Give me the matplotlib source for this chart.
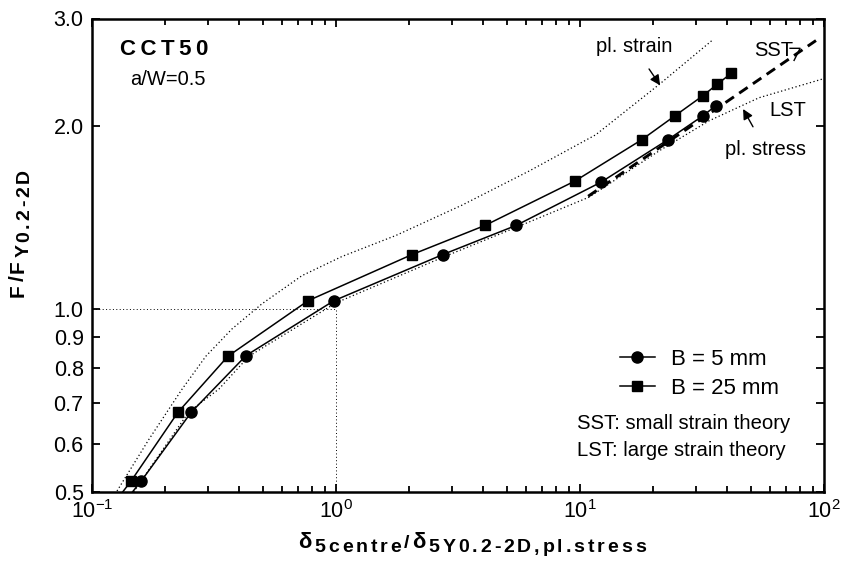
import numpy as np
import matplotlib
matplotlib.use('Agg')
from matplotlib import pyplot as plt
from matplotlib import ticker

# data (log-log)
b5_x = [0.139, 0.159, 0.255, 0.428, 0.98, 2.74, 5.47, 12.2, 22.9, 31.9, 36.1]
b5_y = [0.487, 0.521, 0.676, 0.838, 1.031, 1.228, 1.371, 1.615, 1.896, 2.076, 2.158]

b25_x = [0.127, 0.1445, 0.225, 0.361, 0.768, 2.05, 4.08, 9.54, 17.9, 24.5, 31.9, 36.4, 41.6]
b25_y = [0.487, 0.521, 0.676, 0.836, 1.031, 1.228, 1.371, 1.622, 1.896, 2.076, 2.240, 2.337, 2.437]

# plane strain / plane stress reference curves
strain_x = [0.122, 0.171, 0.234, 0.293, 0.375, 0.497, 0.726, 1.058, 1.76, 3.28, 6.18, 11.6, 21.1, 34.8]
strain_y = [0.49, 0.610, 0.738, 0.836, 0.927, 1.019, 1.134, 1.219, 1.320, 1.480, 1.684, 1.932, 2.337, 2.762]

stress_x = [0.148, 0.25, 0.331, 0.44, 1.0, 2.72, 5.47, 10.9, 21.1, 33.8, 54.2, 100.0]
stress_y = [0.5, 0.678, 0.738, 0.836, 1.023, 1.214, 1.361, 1.526, 1.818, 2.037, 2.223, 2.39]

# small strain theory
sst_x = [10.8, 31.6, 92.7]
sst_y = [1.531, 2.053, 2.76]

y_ticks = [0.5, 0.6, 0.7, 0.8, 0.9, 1.0, 2.0, 3.0]
y_labels = ['0.5', '0.6', '0.7', '0.8', '0.9', '1.0', '2.0', '3.0']

FONTS = ['Liberation Sans', 'DejaVu Sans']


def spaced(fig, x, y, pieces, track, vertical=False):
    # letter-spaced bold text, placed in pixels; pieces = (text, size, drop)
    r = fig.canvas.get_renderer()
    pos = 0.0
    for s, size, drop in pieces:
        for ch in s:
            if vertical:
                t = fig.text(x + drop, y + pos, ch, transform=None, fontsize=size, fontweight='bold',
                             rotation=90, rotation_mode='anchor', ha='left', va='baseline', family=FONTS)
                pos += t.get_window_extent(r).height + track
            else:
                t = fig.text(x + pos, y - drop, ch, transform=None, fontsize=size, fontweight='bold',
                             ha='left', va='baseline', family=FONTS)
                pos += t.get_window_extent(r).width + track


def plotter():
    plt.rcParams.update({'font.family': FONTS,
                         'mathtext.fontset': 'custom',
                         'mathtext.rm': 'Liberation Sans',
                         'mathtext.it': 'Liberation Sans:italic',
                         'mathtext.bf': 'Liberation Sans:bold',
                         'font.size': 14})

    fig = plt.figure(figsize=(8.48, 5.61), dpi=100)
    ax = fig.add_axes([92 / 848, 1 - 492 / 561, 732 / 848, 473.5 / 561])

    # dotted guide at (1,1)
    ax.plot([0.1, 1.0, 1.0], [1.0, 1.0, 0.5], c='k', lw=0.7, ls=(0, (1, 2.5)))

    ax.plot(strain_x, strain_y, c='k', lw=0.9, ls=(0, (1, 2)))
    ax.plot(stress_x, stress_y, c='k', lw=0.9, ls=(0, (1, 2)))
    ax.plot(sst_x, sst_y, c='k', lw=2.1, ls=(0, (3.5, 2.2)))

    ax.plot(b5_x, b5_y, c='k', lw=1.1, marker='o', ms=8, markevery=slice(1, None), label='B = 5 mm')
    ax.plot(b25_x, b25_y, c='k', lw=1.1, marker='s', ms=7, markevery=slice(1, None), label='B = 25 mm')

    ax.set_xscale('log')
    ax.set_yscale('log')
    ax.set_xlim(0.1, 100)
    ax.set_ylim(0.5, 3.0)

    ax.yaxis.set_major_locator(ticker.FixedLocator(y_ticks))
    ax.yaxis.set_major_formatter(ticker.FixedFormatter(y_labels))
    ax.yaxis.set_minor_locator(ticker.NullLocator())
    ax.xaxis.set_major_locator(ticker.LogLocator(base=10))
    ax.xaxis.set_minor_locator(ticker.LogLocator(base=10, subs=np.arange(2, 10)))

    ax.tick_params(which='both', direction='in', top=True, right=True, width=1.3, labelsize=15.5)
    ax.tick_params(which='major', length=6, pad=6)
    ax.tick_params(which='minor', length=4.5)
    for s in ax.spines.values():
        s.set_linewidth(1.8)

    # axis titles, letter spaced like the original
    spaced(fig, 298, 13, [('δ', 16, 0), ('5centre', 14, 4), ('/', 14, 0), ('δ', 16, 0),
                          ('5Y0.2-2D,pl.stress', 14, 4)], track=2.9)
    spaced(fig, 24, 264, [('F/F', 15, 0), ('Y0.2-2D', 14, 5)], track=2.8, vertical=True)

    ax.text(0.038, 0.935, 'C\u2009C\u2009T\u20095\u20090', transform=ax.transAxes, fontsize=16,
            fontweight='bold', va='center')
    ax.text(0.052, 0.872, 'a/W=0.5', transform=ax.transAxes, fontsize=14.5, va='center')

    ax.annotate('pl. strain', xy=(21.3, 2.33), xytext=(16.6, 2.70), ha='center', va='center', fontsize=14.5,
                arrowprops=dict(arrowstyle='-|>', color='k', lw=1, shrinkA=9, shrinkB=0, mutation_scale=15))
    ax.annotate('pl. stress', xy=(46.6, 2.13), xytext=(57.8, 1.824), ha='center', va='center', fontsize=14.5,
                arrowprops=dict(arrowstyle='-|>', color='k', lw=1, shrinkA=9, shrinkB=0, mutation_scale=15))
    ax.text(62.4, 2.66, 'SST', ha='center', va='center', fontsize=14.5)
    ax.plot([72.6, 79.8, 75.4], [2.68, 2.68, 2.56], c='k', lw=1)  # SST leader
    ax.text(71.2, 2.116, 'LST', ha='center', va='center', fontsize=14.5)

    ax.legend(loc='upper left', bbox_to_anchor=(0.721, 0.302), frameon=False, fontsize=16,
              borderpad=0, borderaxespad=0, handlelength=1.58, handletextpad=0.72, labelspacing=0.35)
    ax.text(0.6626, 0.1457, 'SST: small strain theory', transform=ax.transAxes, fontsize=14.6, va='center')
    ax.text(0.6626, 0.0887, 'LST: large strain theory', transform=ax.transAxes, fontsize=14.6, va='center')

    fig.savefig('out.png', dpi=100)


if __name__ == '__main__':
    plotter()
